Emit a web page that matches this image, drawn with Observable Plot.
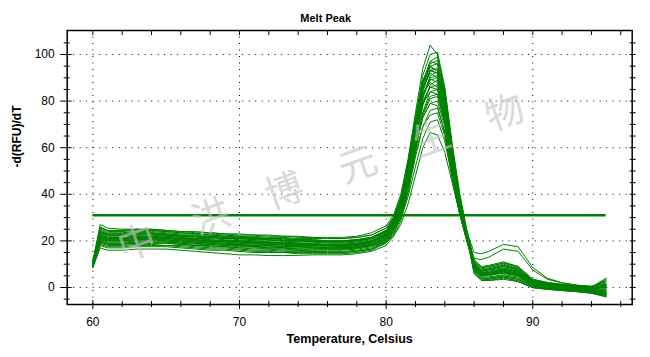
<!DOCTYPE html>
<html><head><meta charset="utf-8">
<script src="https://cdn.jsdelivr.net/npm/d3@7"></script>
<script src="https://cdn.jsdelivr.net/npm/@observablehq/plot@0.6"></script>
<style>
body{margin:0;background:#fff;}
#wrap{position:relative;width:650px;height:357px;overflow:hidden;background:#fff;}
#wm{position:absolute;left:320px;top:175px;transform:translate(-50%,-50%) rotate(-19.5deg);font-family:"Noto Sans CJK SC";font-size:38px;letter-spacing:40px;padding-left:40px;color:rgba(195,195,195,0.65);white-space:nowrap;line-height:1;pointer-events:none;z-index:2;}
</style></head><body><div id="wrap"><div id="wm"></div></div>
<script>
const titleText = ["Melt Peak"];
const xLabel = ["Temperature, Celsius"];
const yLabel = ["-d(RFU)/dT"];
const watermark = "中洪博元生物";

const xMajor = [60, 70, 80, 90];
const xMinor = [62, 64, 66, 68, 72, 74, 76, 78, 82, 84, 86, 88, 92, 94, 96];
const xAll = [60, 62, 64, 66, 68, 70, 72, 74, 76, 78, 80, 82, 84, 86, 88, 90, 92, 94, 96];
const yMajor = [0, 20, 40, 60, 80, 100];
const yMinor = [-5, 5, 10, 15, 25, 30, 35, 45, 50, 55, 65, 70, 75, 85, 90, 95, 105];
const yAll = [-5, 0, 5, 10, 15, 20, 25, 30, 35, 40, 45, 50, 55, 60, 65, 70, 75, 80, 85, 90, 95, 100, 105];

const thresholdValue = 31;
const thresholdSpan = [60, 95];

const temps = [60, 60.5, 61, 62, 63, 64, 65, 66, 67, 68, 69, 70, 71, 72, 73, 74, 75, 76, 77, 78, 79,
  80, 80.5, 81, 81.5, 82, 82.5, 83, 83.5, 84, 84.5, 85, 85.5, 86, 86.5, 87,
  88, 89, 90, 91, 92, 93, 94, 95];

const w01 = [10, 22.5, 21.5, 21.5, 22, 22, 21.5, 21, 20.5, 20, 20, 19.5, 19.5, 19, 19, 19, 18.5, 18.5, 18.5, 19, 20,
  23, 28, 38, 55, 75, 94, 104, 100, 84, 60, 39, 23, 9, 5, 5.5,
  7, 5.5, 1.2, 0.2, -0.4, -0.9, -1.5, -2];
const w02 = [11, 25.5, 24.5, 24.5, 25, 24.5, 24, 23.5, 23, 22.5, 22, 21.5, 21.5, 21, 21, 20.5, 20.5, 20, 20, 20.5, 21.5,
  24.5, 29, 38, 54, 73, 91, 100, 101, 86, 62, 41, 25, 11, 8, 8.5,
  10, 8, 3, 1.7, 1, 0.5, 0, 1];
const w03 = [9.5, 21, 20, 20, 20.5, 20.5, 20.5, 20, 19.5, 19.5, 19, 18.5, 18, 18, 17.5, 17.5, 17, 17, 17, 17.5, 18.5,
  21.5, 26, 34, 50, 70, 88, 97, 99, 85, 61, 40, 24, 7, 3.5, 3.5,
  4.5, 3.5, 0.3, -0.5, -1, -1.5, -2, -3.5];
const w04 = [10.5, 24, 23, 23, 23.5, 23.5, 23, 22.5, 22, 22, 21.5, 21, 21, 20.5, 20, 20, 20, 19.5, 19.5, 20, 21,
  24, 29, 37, 52, 71, 88, 97, 96, 80, 57, 37, 22, 10.5, 7, 7.5,
  9, 7.5, 2.4, 1.2, 0.5, 0, -0.5, 0.5];
const w05 = [10, 22, 21, 21, 21.5, 22, 21.5, 21, 21, 20.5, 20, 20, 19.5, 19.5, 19, 19, 18.5, 18, 18, 18.5, 19.5,
  22.5, 27, 35, 50, 69, 86, 95, 96, 82, 59, 38, 23, 9, 5, 5,
  6.5, 5, 1.2, 0.2, -0.4, -1, -1.5, -2.5];
const w06 = [11.5, 27, 25.5, 25, 25, 25, 24.5, 24, 23.5, 23.5, 23, 23, 22.5, 22.5, 22, 22, 21.5, 21.5, 21.5, 22, 23.5,
  26.5, 31, 40, 55, 73, 89, 95, 93, 78, 55, 36, 22, 12, 9, 9.5,
  11, 9, 3.6, 2.2, 1.4, 0.9, 0.5, 2.5];
const w07 = [9, 20, 19, 19, 19.5, 19.5, 19.5, 19, 19, 18.5, 18, 18, 17.5, 17, 17, 16.5, 16.5, 16.5, 16.5, 17, 18,
  21, 25.5, 33, 48, 67, 84, 93, 94, 81, 58, 37, 22, 6.5, 3, 3,
  4, 3, 0, -0.8, -1.3, -1.8, -2.5, -4];
const w08 = [10.5, 23.5, 22.5, 22.5, 23, 23, 22.5, 22, 22, 21.5, 21, 21, 20.5, 20.5, 20, 20, 19.5, 19.5, 19.5, 20, 21,
  24, 28.5, 36, 51, 69, 85, 93, 92, 78, 56, 36, 24, 15, 14.5, 15.5,
  18.5, 17.5, 8.5, 4, 2, 1, 0.5, 1.5];
const w09 = [9, 19, 18, 18, 18.5, 18.5, 18, 18, 17.5, 17, 17, 16.5, 16, 16, 15.5, 15.5, 15.5, 15, 15, 15.5, 16.5,
  19.5, 24, 31, 45, 64, 81, 91, 92.5, 80, 58, 38, 23, 8, 4.5, 4.5,
  5.5, 4.5, 0.9, 0, -0.6, -1.2, -1.8, -2.5];
const w10 = [11, 24.5, 23.5, 23.5, 24, 24, 23.5, 23, 23, 22.5, 22, 22, 21.5, 21, 21, 20.5, 20.5, 20, 20, 20.5, 21.5,
  24.5, 29.5, 38, 53, 71, 86, 92, 90, 75, 53, 34, 21, 10.5, 7.5, 8,
  9.5, 8, 2.7, 1.5, 0.8, 0.3, 0, 3.5];
const w11 = [10, 21.5, 20.5, 20.5, 21, 21.5, 21, 20.5, 20, 20, 19.5, 19, 19, 18.5, 18.5, 18, 18, 18, 17.5, 18, 19,
  22, 26.5, 34, 48, 66, 82, 90, 91, 78, 56, 36, 22, 9.5, 6, 6.5,
  7.5, 6, 1.8, 0.7, 0, -0.5, -1, -1];
const w12 = [10.5, 23, 22, 22, 22.5, 22.5, 22, 21.5, 21, 21, 20.5, 20, 20, 19.5, 19.5, 19, 19, 18.5, 18.5, 19, 20,
  23, 27.5, 35, 49, 67, 82, 89, 90, 77, 56, 37, 23, 12.5, 12, 13,
  16.5, 15.5, 7.5, 3.5, 2, 1, 0, 0];
const w13 = [9, 18, 17, 17, 17.5, 17.5, 17.5, 17, 16.5, 16, 16, 15.5, 15, 15, 15, 14.5, 14.5, 14.5, 14.5, 15, 16,
  19, 23, 30, 43, 61, 78, 87, 89, 77, 56, 37, 22, 6, 3, 3.5,
  4.5, 2.5, 0, -0.7, -1.2, -1.7, -2.3, -4];
const w14 = [11, 25, 24, 24, 24.5, 24.5, 24, 23.5, 23, 23, 22.5, 22, 22, 21.5, 21.5, 21, 21, 21, 21, 21.5, 22.5,
  25.5, 30, 38, 52, 69, 83, 88, 86, 72, 51, 33, 21, 11, 8.5, 9,
  10.5, 8.5, 3.3, 2, 1.2, 0.7, 0.3, 3];
const w15 = [9.5, 20.5, 19.5, 19.5, 20, 20, 20, 19.5, 19, 19, 18.5, 18, 17.5, 17.5, 17, 17, 17, 16.5, 16.5, 17, 18,
  21, 25.5, 32, 46, 63, 79, 86, 87, 75, 54, 35, 21, 9, 5.5, 6,
  7, 5.5, 1.5, 0.5, -0.2, -0.7, -1.2, -2];
const w16 = [10, 22.5, 21.5, 21.5, 22, 22, 22, 21.5, 21, 20.5, 20, 20, 19.5, 19.5, 19, 19, 18.5, 18.5, 18.5, 19, 20,
  23, 27.5, 35, 48, 65, 80, 86, 85, 72, 52, 34, 21, 9.5, 6.5, 7,
  8, 6.5, 2.1, 1, 0.3, -0.2, -0.7, 0];
const w17 = [8.5, 17, 16, 16, 16.5, 16.5, 16.5, 16, 15.5, 15, 14.5, 14, 14, 13.7, 13.7, 13.8, 14, 14, 14, 14.5, 15.5,
  18, 22, 28.5, 41, 58, 75, 84, 85, 74, 54, 36, 22, 6, 3, 3,
  3.5, 2.5, -0.1, -0.8, -1.3, -1.8, -2.4, -3];
const w18 = [10.5, 24, 23, 23, 23.5, 23.5, 23, 22.5, 22.5, 22, 21.5, 21.5, 21, 21, 20.5, 20.5, 20, 20, 20, 20.5, 21.5,
  24.5, 29, 36, 49, 66, 79, 84, 83, 70, 50, 33, 21, 10, 7.5, 8,
  9.5, 8, 2.7, 1.5, 0.8, 0.3, 0.2, 4];
const w19 = [9, 19.5, 18.5, 18.5, 19, 19, 19, 18.5, 18, 18, 17.5, 17, 17, 16.5, 16.5, 16, 16, 16, 16, 16.5, 17.5,
  20.5, 25, 31, 44, 60, 74, 81, 82, 71, 52, 34, 21, 8.5, 5, 5.5,
  6, 5, 1.2, 0.2, -0.4, -0.9, -1.4, -1.5];
const w20 = [10, 21.5, 20.5, 20.5, 21, 21, 21, 20.5, 20, 19.5, 19.5, 19, 18.5, 18.5, 18, 18, 18, 17.5, 17.5, 18, 19,
  22, 26, 33, 45, 60, 73, 79, 80, 69, 50, 33, 21, 9.5, 6, 6.5,
  8, 6.5, 1.8, 0.7, 0, -0.5, -0.9, 0.5];
const w21 = [10.5, 23.5, 22.5, 22.5, 23, 23, 22.5, 22, 22, 21.5, 21, 21, 20.5, 20.5, 20, 20, 20, 19.5, 19.5, 20, 21,
  24, 28, 34.5, 46, 61, 73, 79, 78, 66, 48, 32, 20, 10, 7, 7.5,
  9, 7.5, 2.4, 1.2, 0.5, 0, -0.4, 1.5];
const w22 = [8.5, 18.5, 17.5, 17.5, 18, 18, 18, 17.5, 17, 16.5, 16.5, 16, 15.5, 15.5, 15, 15, 15, 15, 15, 15.5, 16.5,
  19.5, 23.5, 30, 41, 56, 69, 76, 77, 67, 49, 33, 21, 7.5, 4, 4,
  5, 3.5, 0.6, -0.3, -0.9, -1.4, -2, -3.5];
const w23 = [10, 22, 21, 21, 21.5, 21.5, 21, 21, 20.5, 20, 20, 19.5, 19, 19, 18.5, 18.5, 18.5, 18, 18, 18.5, 19.5,
  22.5, 26.5, 33, 44, 58, 69, 74, 75, 65, 47, 32, 20, 9.5, 6.5, 6.5,
  8, 7, 2.1, 1, 0.3, -0.2, -0.6, 1];
const w24 = [9.5, 20, 19, 19, 19.5, 19.5, 19.5, 19, 18.5, 18.5, 18, 17.5, 17.5, 17, 17, 16.5, 16.5, 16.5, 16.5, 17, 18,
  20.5, 24, 29.5, 39, 52, 64, 71, 72, 63, 47, 32, 20, 8.5, 5, 5.5,
  6.5, 5, 1.2, 0.2, -0.4, -1, -1.6, -2.5];
const w25 = [9.5, 21, 20, 20, 20.5, 20.5, 20, 19.5, 19.5, 19, 18.5, 18.5, 18, 18, 17.5, 17.5, 17.5, 17, 17, 17.5, 18,
  19.5, 22, 27, 36, 48, 60, 66.5, 65.5, 58, 45, 32, 20.5, 9, 5.5, 6,
  7, 5.5, 1.5, 0.5, -0.2, -0.7, -1.1, -1];
const w26 = [11, 26, 24.5, 24.5, 25, 25, 24.5, 24, 24, 23.5, 23, 22.5, 22.5, 22, 22, 21.5, 21.5, 21, 21, 21.5, 22.5,
  25.5, 30, 39, 54, 72, 88, 94.5, 93, 79, 56, 37, 22.5, 11.5, 8.5, 9,
  10.5, 9, 3.3, 2, 1.2, 0.7, 0.4, 2];
const w27 = [9, 19.5, 18.5, 18.5, 19, 19, 19, 18.5, 18, 17.5, 17.5, 17, 16.5, 16.5, 16, 16, 15.5, 15.5, 15.5, 16, 17,
  20, 25, 33, 49, 69, 87, 96, 97.5, 83, 60, 39, 23, 7.5, 4, 4,
  5, 4, 0.6, -0.3, -0.9, -1.4, -2, -3];
const w28 = [10, 22, 21, 21, 21.5, 21.5, 21, 21, 20.5, 20, 20, 19.5, 19, 19, 19, 18.5, 18.5, 18, 18, 18.5, 19.5,
  22.5, 27, 35, 50, 69, 85, 93.5, 92, 78, 56, 36.5, 22, 9, 6, 6,
  7.5, 6, 1.8, 0.7, 0, -0.5, -0.9, -0.5];
const w29 = [10.5, 23.5, 22.5, 22.5, 22.5, 23, 22.5, 22, 21.5, 21.5, 21, 20.5, 20, 20, 20, 19.5, 19.5, 19, 19, 19.5, 20.5,
  23.5, 28, 36, 50, 68, 83, 89.5, 88, 74, 53, 34.5, 21.5, 10, 7, 7.5,
  8.5, 7, 2.4, 1.2, 0.5, 0, -0.4, 1];
const w30 = [9.5, 21, 20, 20, 20.5, 20.5, 20.5, 20, 19.5, 19.5, 19, 18.5, 18, 18, 17.5, 17.5, 17.5, 17, 17, 17.5, 18.5,
  21.5, 25.5, 32, 44, 60, 75, 82, 83, 72, 52, 34, 21, 9, 5.5, 5.5,
  6.5, 5.5, 1.5, 0.5, -0.2, -0.7, -1.2, -1.5];

const wells = [w01, w02, w03, w04, w05, w06, w07, w08, w09, w10, w11, w12, w13, w14, w15,
  w16, w17, w18, w19, w20, w21, w22, w23, w24, w25, w26, w27, w28, w29, w30];

const rows = wells.flatMap((w, k) => w.map((v, i) => ({well: k, t: temps[i], v})));

const green = "#008000";
const dots = {stroke: "#000", strokeOpacity: 1, strokeWidth: 1, strokeDasharray: "1,5.5"};
const blank = () => "";

const chart = Plot.plot({
  width: 650, height: 357,
  marginLeft: 66.7, marginRight: 18.3, marginTop: 30, marginBottom: 53,
  x: {domain: [58.25, 96.78], label: null},
  y: {domain: [-7.3, 110.3], label: null},
  style: {fontFamily: "'Liberation Sans', Arial, sans-serif", fontSize: "12px", color: "#000", background: "transparent"},
  marks: [
    Plot.gridX({ticks: xMajor, ...dots}),
    Plot.gridY({ticks: yMajor, ...dots}),
    Plot.line(rows, {x: "t", y: "v", z: "well", stroke: green, strokeWidth: 1}),
    Plot.ruleY([thresholdValue], {x1: thresholdSpan[0], x2: thresholdSpan[1], stroke: green, strokeWidth: 2.5}),
    Plot.frame({stroke: "#000", strokeWidth: 1.5}),
    Plot.axisY({ticks: yMajor, anchor: "left", tickSize: 11.5, dx: 5, tickPadding: 6, label: null, fontSize: 12}),
    Plot.axisY({ticks: yMinor, anchor: "left", tickSize: 6, dx: 3, tickFormat: blank, label: null}),
    Plot.axisY({ticks: yAll, anchor: "right", tickSize: 6, dx: -3, tickFormat: blank, label: null}),
    Plot.axisX({ticks: xMajor, anchor: "bottom", tickSize: 9, dy: -4, tickPadding: 8, label: null, fontSize: 12}),
    Plot.axisX({ticks: xMinor, anchor: "bottom", tickSize: 6, dy: -3, tickFormat: blank, label: null}),
    Plot.axisX({ticks: xAll, anchor: "top", tickSize: 4, dy: 4, tickFormat: blank, label: null}),
    Plot.text(titleText, {text: d => d, frameAnchor: "top", dy: -16, dx: -24, fontWeight: "bold", fontSize: 11}),
    Plot.text(yLabel, {text: d => d, frameAnchor: "left", dx: -50, rotate: -90, fontWeight: "bold", fontSize: 12}),
    Plot.text(xLabel, {text: d => d, frameAnchor: "bottom", dy: 38, fontWeight: "bold", fontSize: 12.5})
  ]
});
document.getElementById("wrap").insertBefore(chart, document.getElementById("wm"));
document.getElementById("wm").textContent = watermark;
</script>
</body></html>
